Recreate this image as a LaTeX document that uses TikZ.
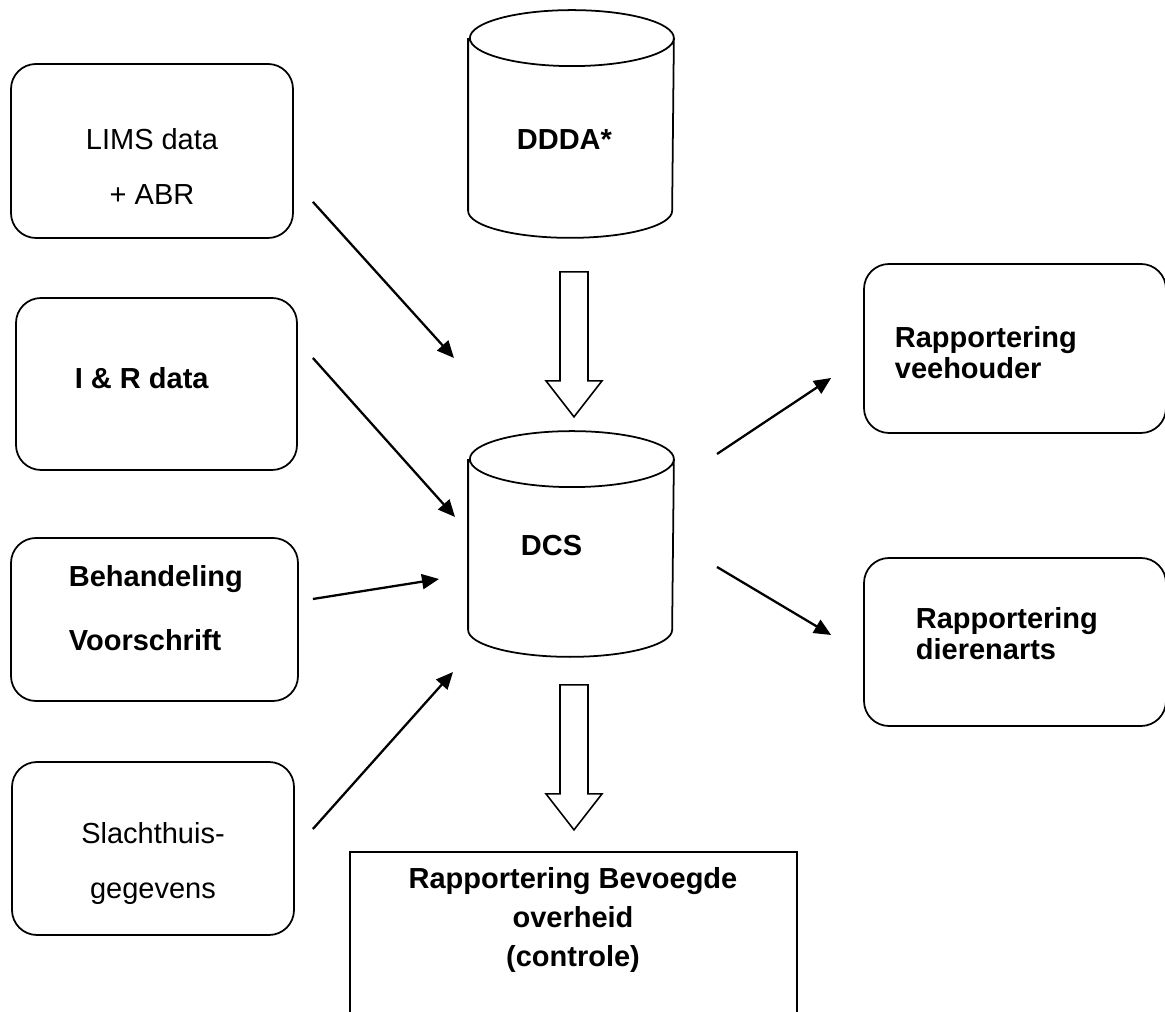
\documentclass[tikz,border=0pt]{standalone}
\usepackage{fontspec}
\setmainfont{Liberation Sans}
\usetikzlibrary{arrows.meta}

\begin{document}
\begin{tikzpicture}[
        x=0.2mm, y=0.2mm,
        line width=1pt,
        roundbox/.style={draw, rounded corners=5mm, line width=1pt},
        plainbox/.style={draw, line width=1pt},
        dbcyl/.style={minimum width=40.8mm, inner sep=0pt},
        txt/.style={inner sep=0pt, font=\fontsize{16.5}{19}\selectfont},
        btxt/.style={inner sep=0pt, font=\fontsize{16.5}{19}\selectfont\bfseries},
        arr/.style={-{Triangle[length=3.4mm, width=3mm]}, line width=1.3pt},
        fat/.style={draw, line width=0.9pt, fill=white}
    ]
        \path[use as bounding box, fill=white] (0,0) rectangle (1165,1012);

        % bronnen links
        \node[roundbox, minimum width=56.4mm, minimum height=34.8mm] (lims) at (152,861) {};
        \node[roundbox, minimum width=56.2mm, minimum height=34.4mm] (ir) at (156.5,628) {};
        \node[roundbox, minimum width=57.4mm, minimum height=32.6mm] (behand) at (154.5,392.5) {};
        \node[roundbox, minimum width=56.4mm, minimum height=34.6mm] (slacht) at (153,163.5) {};
        % rapportages
        \node[roundbox, minimum width=60.4mm, minimum height=33.8mm] (veeh) at (1015,663.5) {};
        \node[roundbox, minimum width=60.4mm, minimum height=33.6mm] (dier) at (1015,370) {};
        \node[plainbox, anchor=north, minimum width=89.4mm, minimum height=38mm] (overheid) at (573.5,161) {};

        % databanken
        \node[dbcyl, minimum height=45.2mm] (ddda) at (571,888) {};
        \node[dbcyl, minimum height=44.8mm] (dcs) at (571,468) {};
        \foreach \c in {ddda,dcs}
            \draw ([yshift=-5.6mm]\c.north west) -- ([yshift=5.4mm]\c.south west)
                arc[start angle=180, end angle=360, x radius=20.4mm, y radius=5.4mm]
                -- ([yshift=-5.6mm]\c.north east)
                arc[start angle=0, end angle=360, x radius=20.4mm, y radius=5.6mm];

        % teksten
        \node[txt, anchor=north, align=center, font=\fontsize{16.5}{31.3}\selectfont] (limstxt) at (152,884) {LIMS data\\+ ABR};
        \node[btxt, anchor=base west] (irtxt) at (74,623) {I \& R data};
        \node[btxt, anchor=north west, align=left, font=\fontsize{16.5}{36.4}\selectfont\bfseries] (behandtxt) at (68,447) {Behandeling\\Voorschrift};
        \node[txt, anchor=north, align=center, font=\fontsize{16.5}{31.3}\selectfont] (slachttxt) at (153,190) {Slachthuis-\\gegevens};
        \node[btxt, anchor=base west] (dddatxt) at (516,862) {DDDA*};
        \node[btxt, anchor=base west] (dcstxt) at (520,456) {DCS};
        \node[btxt, anchor=north west, align=left, font=\fontsize{16.5}{17.6}\selectfont\bfseries] (veehtxt) at (894,686) {Rapportering\\veehouder};
        \node[btxt, anchor=north west, align=left, font=\fontsize{16.5}{17.6}\selectfont\bfseries] (diertxt) at (915,405) {Rapportering\\dierenarts};
        \node[btxt, anchor=north, align=center, font=\fontsize{16.5}{22.2}\selectfont\bfseries] (ovhtxt) at (573,145) {Rapportering Bevoegde\\overheid\\(controle)};

        % pijlen
        \draw[arr] ([shift={(19,37)}]lims.south east) -- ([shift={(-117,186)}]dcs.center);
        \draw[arr] ([shift={(15,26)}]ir.east) -- ([shift={(-116,27)}]dcs.center);
        \draw[arr] ([shift={(14,20.5)}]behand.east) -- ([shift={(-132,-35)}]dcs.center);
        \draw[arr] ([shift={(18,19.5)}]slacht.east) -- ([shift={(-118,-128)}]dcs.center);
        \draw[arr] ([shift={(146,90)}]dcs.center) -- ([shift={(-32,-29.5)}]veeh.west);
        \draw[arr] ([shift={(146,-23)}]dcs.center) -- ([shift={(-32,7)}]dier.west);

        \draw[fat] ([shift={(-11,-34)}]ddda.south) -- ++(0,-109) -- ++(-14,0) -- ++(28,-36) -- ++(28,36) -- ++(-14,0) -- ++(0,109) -- cycle;
        \draw[fat] ([shift={(-11,-28)}]dcs.south) -- ++(0,-109) -- ++(-14,0) -- ++(28,-36) -- ++(28,36) -- ++(-14,0) -- ++(0,109) -- cycle;
    \end{tikzpicture}
\end{document}
